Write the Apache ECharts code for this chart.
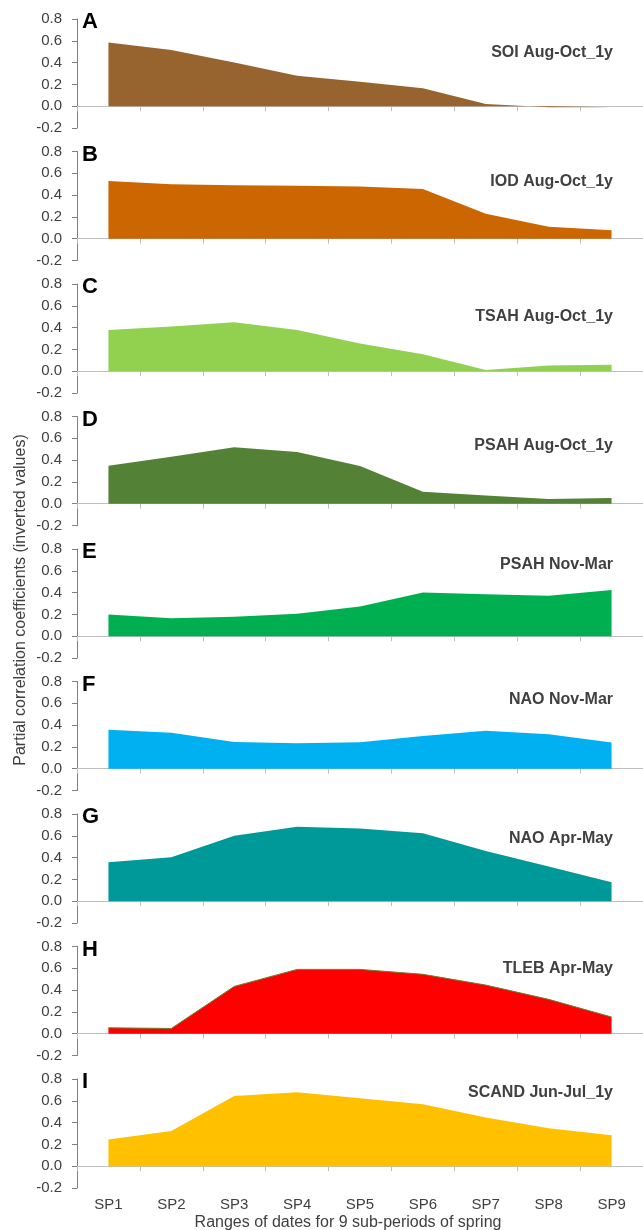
<!DOCTYPE html>
<html>
<head>
<meta charset="utf-8">
<script src="https://cdn.jsdelivr.net/npm/echarts@6/dist/echarts.min.js"></script>
<style>
  html, body { margin: 0; padding: 0; background: #fff; }
  #chart { width: 643px; height: 1230px; }
</style>
</head>
<body>
<div id="chart"></div>
<script>
// categories (9 sub-periods of spring)
const categories = ['SP1', 'SP2', 'SP3', 'SP4', 'SP5', 'SP6', 'SP7', 'SP8', 'SP9'];
const panelLetters = ['A', 'B', 'C', 'D', 'E', 'F', 'G', 'H', 'I'];
const panelNames = ['SOI Aug-Oct_1y', 'IOD Aug-Oct_1y', 'TSAH Aug-Oct_1y', 'PSAH Aug-Oct_1y',
  'PSAH Nov-Mar', 'NAO Nov-Mar', 'NAO Apr-May', 'TLEB Apr-May', 'SCAND Jun-Jul_1y'];

// partial correlation coefficients (inverted values)
const soiAugOct = [0.585, 0.515, 0.40, 0.28, 0.225, 0.165, 0.02, -0.01, -0.01];
const iodAugOct = [0.53, 0.50, 0.49, 0.485, 0.48, 0.455, 0.23, 0.11, 0.077];
const tsahAugOct = [0.378, 0.41, 0.45, 0.378, 0.254, 0.155, 0.012, 0.053, 0.059];
const psahAugOct = [0.348, 0.43, 0.517, 0.474, 0.345, 0.11, 0.075, 0.043, 0.052];
const psahNovMar = [0.20, 0.165, 0.178, 0.205, 0.273, 0.40, 0.386, 0.371, 0.423];
const naoNovMar = [0.357, 0.33, 0.246, 0.234, 0.243, 0.30, 0.348, 0.317, 0.24];
const naoAprMay = [0.357, 0.403, 0.60, 0.684, 0.666, 0.623, 0.461, 0.318, 0.174];
const tlebAprMay = [0.054, 0.048, 0.434, 0.59, 0.59, 0.545, 0.446, 0.315, 0.153];
const scandJunJul = [0.244, 0.324, 0.644, 0.678, 0.623, 0.568, 0.446, 0.348, 0.284];

const yMin = -0.2, yMax = 0.8, yStep = 0.2;

const panelData = [soiAugOct, iodAugOct, tsahAugOct, psahAugOct, psahNovMar,
  naoNovMar, naoAprMay, tlebAprMay, scandJunJul];
const colors = ['#97642f', '#cc6600', '#92d050', '#538135', '#00b050',
  '#00b0f0', '#009999', '#ff0000', '#ffc000'];
// level (in axis units) where each panel's name sits
const nameLevels = [0.49, 0.52, 0.50, 0.53, 0.655, 0.634, 0.57, 0.60, 0.677];

const chart = echarts.init(document.getElementById('chart'));

const firstTop = 19, step = 132.5, plotH = 109, plotLeft = 77, catW = 64.3;
const font = 'Liberation Sans, Arial, sans-serif';

let grid = [], xAxis = [], yAxis = [], series = [], graphic = [];

panelData.forEach((vals, i) => {
  const top = firstTop + step * i;
  const last = i === panelData.length - 1;
  grid.push({ left: plotLeft, top: top, width: catW * categories.length, height: plotH });

  xAxis.push({
    type: 'category', gridIndex: i, data: categories, boundaryGap: true,
    position: last ? 'top' : 'bottom',
    axisLine: { onZero: true, lineStyle: { color: '#bfbfbf', width: 1 } },
    axisTick: { show: true, inside: last, length: 5, lineStyle: { color: '#bfbfbf' } },
    axisLabel: { show: false },
    splitLine: { show: false }
  });

  yAxis.push({
    type: 'value', gridIndex: i, min: yMin, max: yMax, interval: yStep,
    axisLine: { show: true, lineStyle: { color: '#7f7f7f' } },
    axisTick: { show: true, length: 5, lineStyle: { color: '#7f7f7f' } },
    axisLabel: {
      fontSize: 15, color: '#404040', fontFamily: font, margin: 15,
      formatter: v => v.toFixed(1)
    },
    splitLine: { show: false }
  });

  series.push({
    type: 'line', xAxisIndex: i, yAxisIndex: i, data: vals,
    symbol: 'none', silent: true, animation: false,
    lineStyle: i === 7 ? { color: '#6b7d2a', width: 1 } : { opacity: 0 },
    areaStyle: { color: colors[i], opacity: 1 }
  });

  graphic.push({
    type: 'text', x: 82, y: top + 3,
    style: { text: panelLetters[i], font: 'bold 22px ' + font, fill: '#000', verticalAlign: 'middle' }
  });
  graphic.push({
    type: 'text', x: 613, y: top + (yMax - nameLevels[i]) / (yMax - yMin) * plotH,
    style: { text: panelNames[i], font: 'bold 16px ' + font, fill: '#404040', align: 'right', verticalAlign: 'middle' }
  });
});

// bottom category labels for the last panel
xAxis.push({
  type: 'category', gridIndex: 8, data: categories, boundaryGap: true, position: 'bottom',
  axisLine: { show: false, onZero: false }, axisTick: { show: false },
  axisLabel: { fontSize: 15, color: '#404040', fontFamily: font, margin: 9 }
});

graphic.push({
  type: 'text', x: 348, y: 1223,
  style: { text: 'Ranges of dates for 9 sub-periods of spring', font: '16px ' + font, fill: '#404040', align: 'center', verticalAlign: 'middle' }
});
graphic.push({
  type: 'text', x: 21, y: 600, rotation: Math.PI / 2,
  style: { text: 'Partial correlation coefficients (inverted values)', font: '16px ' + font, fill: '#404040', align: 'center', verticalAlign: 'middle' }
});

chart.setOption({ animation: false, grid, xAxis, yAxis, series, graphic });
</script>
</body>
</html>
